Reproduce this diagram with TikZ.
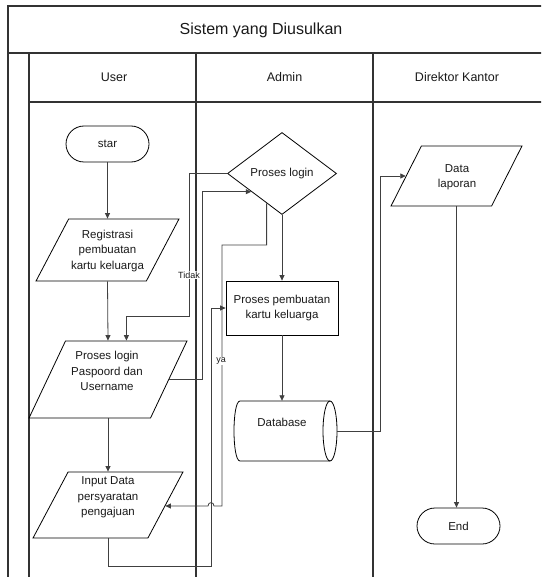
\documentclass[tikz,border=0pt]{standalone}
\usepackage{fontspec}
\setmainfont{Liberation Sans}
\usetikzlibrary{shapes.geometric,shapes.misc,arrows.meta,calc}
\begin{document}
\begin{tikzpicture}[x=1pt,y=-1pt,
  lane/.style={draw=black!80,line width=1.2pt},
  body/.style={font=\fontsize{11.5}{15.5}\selectfont,align=center,inner sep=0pt,text=black!90},
  small/.style={font=\fontsize{9}{10}\selectfont,inner sep=0.8pt,fill=white,text=black!90},
  shp/.style={draw=black,line width=0.8pt,inner sep=0pt},
  term/.style={shp,rounded rectangle,minimum width=83pt,minimum height=36pt,body},
  para/.style={shp,trapezium,inner sep=3pt,trapezium stretches=true,trapezium left angle=#1,trapezium right angle={180-#1}},
  conn/.style={draw=black!75,line width=0.8pt},
  arr/.style={conn,-{Triangle[length=5.5pt,width=5pt]}}
]
\useasboundingbox (0,0) rectangle (541,577);
\clip (0,0) rectangle (541,577);
% lanes
\draw[lane] (8,600) -- (8,6) -- (560,6);
\draw[lane] (8,53) -- (560,53);
\draw[lane] (29,53) -- (29,600);
\draw[lane] (29,102) -- (560,102);
\draw[lane] (196,53) -- (196,600);
\draw[lane] (373,53) -- (373,600);
\node[font=\fontsize{16}{18}\selectfont,text=black!90] (title) at (261,30) {Sistem yang Diusulkan};
\node[font=\fontsize{12.5}{14}\selectfont,text=black!90] (hu) at (114,77) {User};
\node[font=\fontsize{12.5}{14}\selectfont,text=black!90] (ha) at (284.5,77) {Admin};
\node[font=\fontsize{12.5}{14}\selectfont,text=black!90] (hd) at (457,77) {Direktor Kantor};
% User lane
\node[term] (star) at (107.5,144) {star};
\node[para=67.25,minimum width=143pt,minimum height=62pt] (reg) at (107.5,250) {};
\node[body] (regt) at (107.5,251) {Registrasi\\pembuatan\\kartu keluarga};
\node[para=66.8,minimum width=158pt,minimum height=77pt] (plog) at (108,379.5) {};
\node[body] (plogt) at (107,371) {Proses login\\Paspoord dan\\Username};
\node[para=66.3,minimum width=150pt,minimum height=66pt] (inp) at (108,505) {};
\node[body] (inpt) at (108,497.5) {Input Data\\persyaratan\\pengajuan};
% Admin lane
\node[shp,diamond,minimum width=109pt,minimum height=82pt,body] (d) at (282,173.5) {Proses login};
\node[shp,rectangle,minimum width=112pt,minimum height=54pt,body] (box) at (282,308) {Proses pembuatan\\kartu keluarga};
% database (horizontal cylinder)
\node[rectangle,inner sep=0pt,minimum width=103pt,minimum height=60pt] (db) at (285.5,431) {};
\draw[draw=black,line width=0.8pt] (330,401) -- (240,401) .. controls (232,401) and (232,461) .. (240,461) -- (330,461);
\draw[draw=black,line width=0.8pt] (330,431) ellipse [x radius=7pt,y radius=30pt];
\node[body] (dbt) at (282,422) {Database};
% Direktor lane
\node[para=66.6,minimum width=131pt,minimum height=60pt] (dl) at (456.5,176) {};
\node[body] (dlt) at (457,177) {Data\\laporan};
\node[term] (end) at (458.5,526) {End};
% connectors
\draw[arr] (star.south) -- (reg.center |- reg.north);
\draw[arr] (reg.center |- reg.south) -- (plog.center |- plog.north);
\draw[arr] (plog.center |- plog.south) -- (inp.center |- inp.north);
\draw[arr] (d.south) -- (box.north);
\draw[arr] (box.south) -- (box.south |- db.north);
\draw[arr] (db.east) -| ([xshift=-25pt]dl.west) -- (dl.west);
\draw[arr] (dl.center |- dl.south) -- (dl.center |- end.north);
% Tidak
\coordinate (t1) at (189,316);
\coordinate (ptop) at ($(plog.top left corner)!0.5!(plog.top right corner)$);
\draw[arr] (d.west) -| (t1) -| (ptop);
\node[small] (tidak) at (189,275) {Tidak};
% login -> diamond
\coordinate (dentry) at ($(d.west)!0.44!(d.south)$);
\draw[arr] (plog.east) -| ([xshift=-49pt]dentry) -- (dentry);
% ya
\coordinate (ystart) at ($(d.west)!0.72!(d.south)$);
\coordinate (yx) at (222,245);
\coordinate (inpR) at ($(inp.top right corner)!0.515!(inp.bottom right corner)$);
\draw[arr] (ystart) |- (yx) -- (yx |- inpR) -- (214,506) .. controls (214,501.5) and (208,501.5) .. (208,506) -- (inpR);
\node[small] (ya) at (221,361) {ya};
% input -> proses pembuatan
\coordinate (b1) at (211,566);
\draw[arr] (inp.center |- inp.south) |- (b1) |- (box.west);
\end{tikzpicture}
\end{document}
